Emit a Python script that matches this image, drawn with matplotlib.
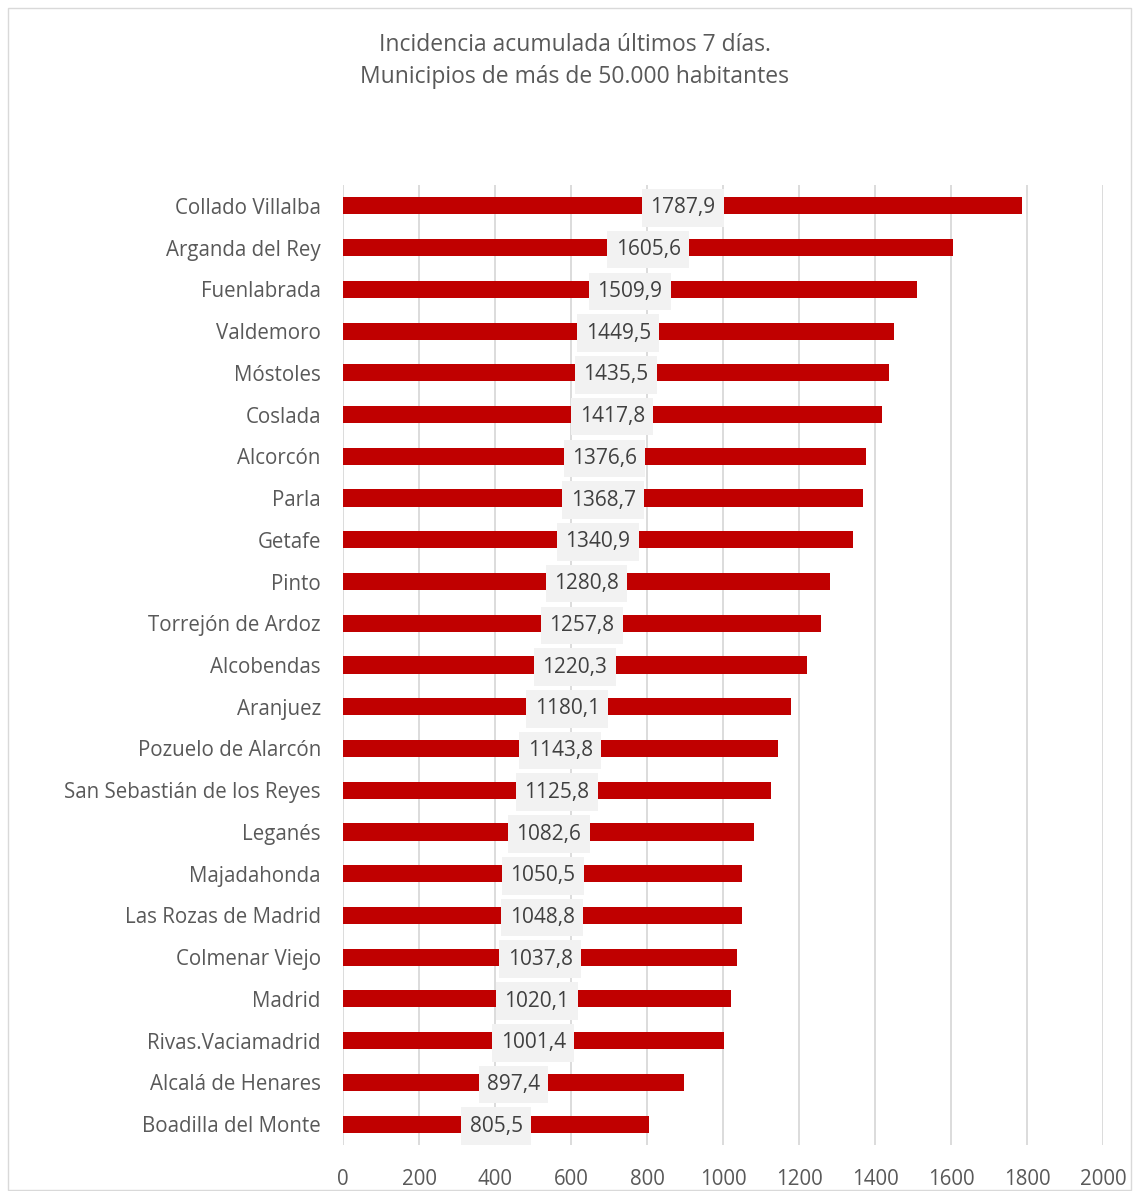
import matplotlib
matplotlib.use("Agg")
import matplotlib.pyplot as plt
from matplotlib.patches import Rectangle

# Data
municipios = [
    "Collado Villalba", "Arganda del Rey", "Fuenlabrada", "Valdemoro", "Móstoles",
    "Coslada", "Alcorcón", "Parla", "Getafe", "Pinto", "Torrejón de Ardoz",
    "Alcobendas", "Aranjuez", "Pozuelo de Alarcón", "San Sebastián de los Reyes",
    "Leganés", "Majadahonda", "Las Rozas de Madrid", "Colmenar Viejo", "Madrid",
    "Rivas.Vaciamadrid", "Alcalá de Henares", "Boadilla del Monte",
]
incidencia = [
    1787.9, 1605.6, 1509.9, 1449.5, 1435.5, 1417.8, 1376.6, 1368.7, 1340.9,
    1280.8, 1257.8, 1220.3, 1180.1, 1143.8, 1125.8, 1082.6, 1050.5, 1048.8,
    1037.8, 1020.1, 1001.4, 897.4, 805.5,
]
xticks = list(range(0, 2001, 200))

plt.rcParams['font.family'] = ['Open Sans', 'DejaVu Sans']

fig = plt.figure(figsize=(11.34, 11.91), dpi=100)
ax = fig.add_axes([0.3025, 0.0386, 0.6702, 0.8061])

pos = list(range(len(municipios)))
ax.barh(pos, incidencia, height=0.41, color="#C00000", zorder=2)

# value labels sit in the middle of each bar on a light grey box
for y, v in zip(pos, incidencia):
    txt = f"{v:.1f}".replace(".", ",")
    ax.text(v / 2, y + 0.05, txt, ha="center", va="center", fontsize=15,
            color="#404040", zorder=3,
            bbox=dict(boxstyle="square,pad=0.4", fc="#F2F2F2", ec="none"))

ax.set_xlim(0, 2000)
ax.set_ylim(len(municipios) - 0.5, -0.5)
ax.set_yticks(pos)
ax.set_yticklabels(municipios, fontsize=14.8, color="#595959")
ax.set_xticks(xticks)
ax.set_xticklabels([str(t) for t in xticks], fontsize=14.8, color="#595959")
ax.tick_params(axis="both", length=0)
ax.tick_params(axis="y", pad=16)
ax.tick_params(axis="x", pad=17)
ax.grid(axis="x", color="#D9D9D9", linewidth=1.3, zorder=0)
for s in ax.spines.values():
    s.set_visible(False)

fig.text(0.507, 0.962, "Incidencia acumulada últimos 7 días.", ha="center",
         va="center", fontsize=16.5, color="#595959")
fig.text(0.507, 0.935, "Municipios de más de 50.000 habitantes", ha="center",
         va="center", fontsize=16.5, color="#595959")

fig.patches.append(Rectangle((0.007, 0.001), 0.99, 0.992, transform=fig.transFigure,
                             fill=False, ec="#D9D9D9", lw=1))

fig.savefig("out.png", dpi=100)
